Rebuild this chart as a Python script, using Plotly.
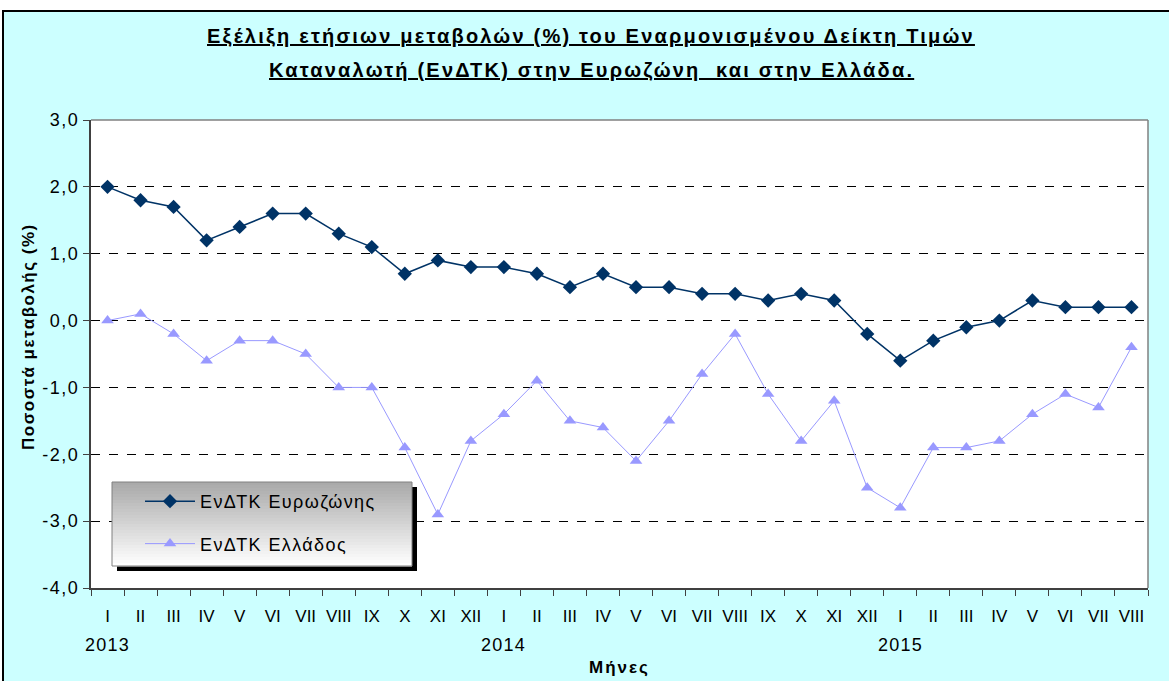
import plotly.graph_objects as go

# months I-2013 .. VIII-2015
months = ["I", "II", "III", "IV", "V", "VI", "VII", "VIII", "IX", "X", "XI", "XII",
          "I", "II", "III", "IV", "V", "VI", "VII", "VIII", "IX", "X", "XI", "XII",
          "I", "II", "III", "IV", "V", "VI", "VII", "VIII"]
years = ["2013", "2014", "2015"]
year_pos = [0, 12, 24]

eurozone = [2.0, 1.8, 1.7, 1.2, 1.4, 1.6, 1.6, 1.3, 1.1, 0.7, 0.9, 0.8,
            0.8, 0.7, 0.5, 0.7, 0.5, 0.5, 0.4, 0.4, 0.3, 0.4, 0.3, -0.2,
            -0.6, -0.3, -0.1, 0.0, 0.3, 0.2, 0.2, 0.2]
greece = [0.0, 0.1, -0.2, -0.6, -0.3, -0.3, -0.5, -1.0, -1.0, -1.9, -2.9, -1.8,
          -1.4, -0.9, -1.5, -1.6, -2.1, -1.5, -0.8, -0.2, -1.1, -1.8, -1.2, -2.5,
          -2.8, -1.9, -1.9, -1.8, -1.4, -1.1, -1.3, -0.4]

y_ticks = [-4, -3, -2, -1, 0, 1, 2, 3]
y_ticktext = ["-4,0", "-3,0", "-2,0", "-1,0", "0,0", "1,0", "2,0", "3,0"]

W, H = 1169, 681
L, R, T, B = 91, 21, 120, 93
pw, ph = W - L - R, H - T - B


def px(x):
    return (x - L) / pw


def py(y):
    return (H - B - y) / ph


def spaced(text, ls):
    return f'<span style="letter-spacing:{ls}px">{text}</span>'


FONT = "Liberation Sans, Arial, sans-serif"
x = list(range(len(months)))

fig = go.Figure()
fig.add_trace(go.Scatter(
    x=x, y=eurozone, mode="lines+markers", name=spaced("ΕνΔΤΚ Ευρωζώνης", 1.4),
    line=dict(color="#003366", width=1.5),
    marker=dict(symbol="diamond", size=11, color="#003366"),
    legendgroup="a"
))
fig.add_trace(go.Scatter(
    x=x, y=greece, mode="lines+markers", name=spaced("ΕνΔΤΚ Ελλάδος", 1.4),
    line=dict(color="#9999FF", width=1),
    marker=dict(symbol="triangle-up", size=11, color="#9999FF"),
    legendgroup="b"
))

shapes = []
# cyan chart area with black frame
shapes.append(dict(type="rect", xref="paper", yref="paper", layer="below",
                   x0=px(3), x1=px(1180), y0=py(695), y1=py(11),
                   fillcolor="#CCFFFF", line=dict(color="black", width=2)))
# white plot area
shapes.append(dict(type="rect", xref="paper", yref="paper", layer="below",
                   x0=0, x1=1, y0=0, y1=1, fillcolor="white", line=dict(width=0)))
# top / right border of plot area
shapes.append(dict(type="line", xref="paper", yref="paper", layer="between",
                   x0=0, x1=1, y0=1, y1=1, line=dict(color="#808080", width=1.5)))
shapes.append(dict(type="line", xref="paper", yref="paper", layer="between",
                   x0=1, x1=1, y0=0, y1=1, line=dict(color="#808080", width=1.5)))

# legend box: shadow + vertical gradient
lx0, lx1, ly0, ly1 = 112, 412, 482, 566
shapes.append(dict(type="rect", xref="paper", yref="paper", layer="above",
                   x0=px(lx0 + 5), x1=px(lx1 + 5), y0=py(ly1 + 5), y1=py(ly0 + 5),
                   fillcolor="black", line=dict(width=0)))
n = 28
for i in range(n):
    t = i / (n - 1)
    g = int(170 + (255 - 170) * t)
    ya = ly0 + (ly1 - ly0) * i / n
    yb = ly0 + (ly1 - ly0) * (i + 1) / n
    shapes.append(dict(type="rect", xref="paper", yref="paper", layer="above",
                       x0=px(lx0), x1=px(lx1), y0=py(yb + 0.5), y1=py(ya),
                       fillcolor=f"rgb({g},{g},{g})", line=dict(width=0)))
shapes.append(dict(type="rect", xref="paper", yref="paper", layer="above",
                   x0=px(lx0), x1=px(lx1), y0=py(ly1), y1=py(ly0),
                   fillcolor="rgba(0,0,0,0)", line=dict(color="#808080", width=1)))

annotations = [
    dict(text="<u><b>" + spaced("Εξέλιξη ετήσιων μεταβολών (%) του Εναρμονισμένου Δείκτη Τιμών", 2.2) + "</b></u>",
         xref="paper", yref="paper", x=px(591), y=py(36), xanchor="center", yanchor="middle",
         showarrow=False, font=dict(size=20, family=FONT, color="black")),
    dict(text="<u><b>" + spaced("Καταναλωτή (ΕνΔΤΚ) στην Ευρωζώνη  και στην Ελλάδα.", 2.2) + "</b></u>",
         xref="paper", yref="paper", x=px(591), y=py(70), xanchor="center", yanchor="middle",
         showarrow=False, font=dict(size=20, family=FONT, color="black")),
    dict(text="<b>" + spaced("Ποσοστά μεταβολής (%)", 1.5) + "</b>", textangle=-90,
         xref="paper", yref="paper", x=px(28), y=py(337), xanchor="center", yanchor="middle",
         showarrow=False, font=dict(size=17, family=FONT, color="black")),
    dict(text="<b>" + spaced("Μήνες", 2) + "</b>", xref="paper", yref="paper", x=px(619), y=py(667),
         xanchor="center", yanchor="middle",
         showarrow=False, font=dict(size=17, family=FONT, color="black")),
]
for yr, pos in zip(years, year_pos):
    annotations.append(dict(text=spaced(yr, 1.2), xref="x", yref="paper", x=pos, y=py(645),
                            xanchor="center", yanchor="middle", showarrow=False,
                            font=dict(size=18, family=FONT, color="black")))

fig.update_layout(
    width=W, height=H,
    margin=dict(l=L, r=R, t=T, b=B),
    paper_bgcolor="white",
    plot_bgcolor="rgba(0,0,0,0)",
    font=dict(family=FONT, size=16, color="black"),
    shapes=shapes,
    annotations=annotations,
    showlegend=True,
    legend=dict(x=px(140), y=py(483), xanchor="left", yanchor="top",
                bgcolor="rgba(0,0,0,0)", borderwidth=0,
                font=dict(size=18, family=FONT, color="black"),
                itemwidth=50, tracegroupgap=16),
    xaxis=dict(
        range=[-0.5, len(months) - 0.5],
        tickvals=x, ticktext=months, ticks="", showgrid=False, zeroline=False,
        showline=True, linecolor="#404040", linewidth=2, ticklabelstandoff=12,
        tickfont=dict(size=17, family=FONT, color="black"),
        minor=dict(tickvals=[i - 0.5 for i in range(len(months) + 1)],
                   ticks="outside", ticklen=6, tickcolor="#404040", showgrid=False),
    ),
    yaxis=dict(
        range=[-4, 3], tickvals=y_ticks, ticktext=[spaced(t, 1.5) for t in y_ticktext],
        ticks="outside", ticklen=6, tickcolor="#404040",
        showgrid=True, gridcolor="black", gridwidth=1, griddash="dash",
        zeroline=False, showline=True, linecolor="#404040", linewidth=2,
        tickfont=dict(size=18, family=FONT, color="black"),
    ),
)

# drop the default page margin so the figure sits at the window origin
fig.write_html("out.html", config={"displayModeBar": False},
               post_script="document.body.style.margin='0';")
